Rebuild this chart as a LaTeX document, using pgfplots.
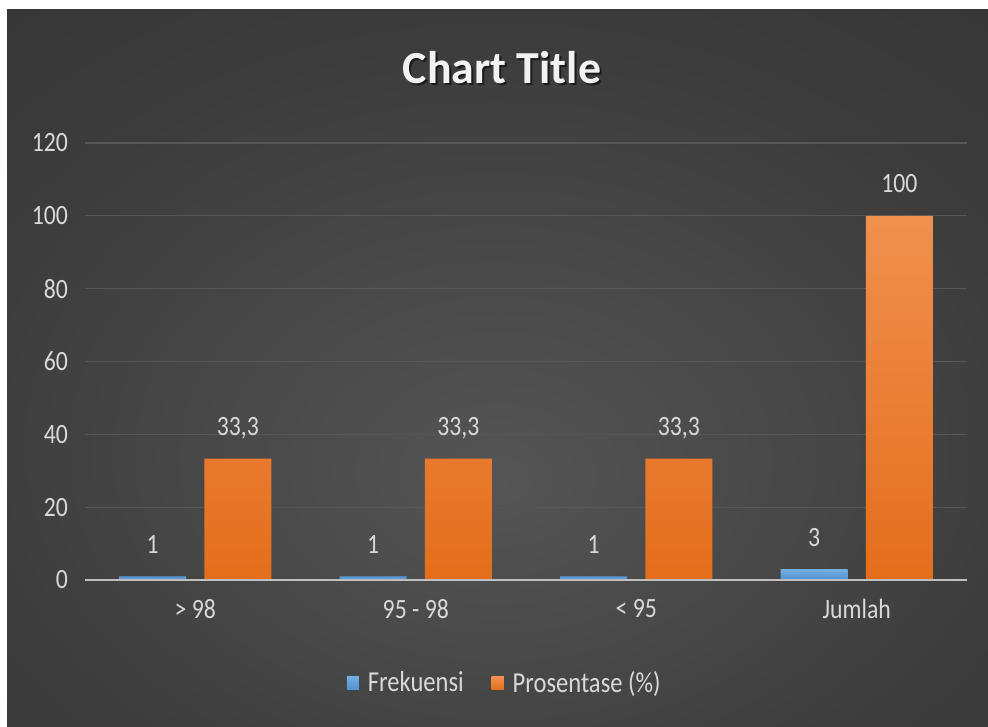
\documentclass[border=0pt]{standalone}
\usepackage{fontspec}
\setmainfont{Carlito}
\newfontfamily\bodyfont{Carlito}[FakeStretch=0.85]
\usepackage{pgfplots}
\pgfplotsset{compat=1.18}
\definecolor{bgin}{HTML}{555555}
\definecolor{bgmid}{HTML}{3C3C3C}
\definecolor{bgout}{HTML}{252525}
\definecolor{gridcol}{HTML}{575757}
\definecolor{labcol}{HTML}{D9D9D9}
\definecolor{titlecol}{HTML}{F2F2F2}
\definecolor{axcol}{HTML}{BFBFBF}
\definecolor{bltop}{HTML}{74ADE0}
\definecolor{blbot}{HTML}{4F93D2}
\definecolor{ortop}{HTML}{F0904F}
\definecolor{orbot}{HTML}{E46E1C}
\pgfdeclareradialshading{bgshade}{\pgfpoint{0bp}{-8bp}}{color(0bp)=(bgin); color(28bp)=(bgmid); color(75bp)=(bgout)}
\begin{document}
\begin{tikzpicture}[x=1bp,y=1bp]
\fill[white] (0,0) rectangle (494,363);
\shade[shading=bgshade] (3.5,0) rectangle (494,358);
\node[font=\fontsize{23}{27}\selectfont\bfseries, text=black, opacity=0.55] at (252,328.3) {Chart Title};
\node[font=\fontsize{23}{27}\selectfont\bfseries, text=titlecol] at (251,329.3) {Chart Title};
\begin{axis}[
  scale only axis, width=441bp, height=218.5bp,
  at={(42.5bp,73bp)}, anchor=south west,
  xmin=-0.5, xmax=3.5, ymin=0, ymax=120,
  ytick={0,20,...,120},
  xtick={0,1,2,3},
  xticklabels={{> 98},{95 - 98},{< 95},{Jumlah}},
  axis x line*=bottom, axis y line*=left,
  axis line style={draw=none},
  major tick length=0pt,
  tick style={draw=none},
  ymajorgrids,
  grid style={gridcol, line width=0.6bp},
  tick label style={font=\bodyfont\fontsize{14}{16}\selectfont, text=labcol},
  yticklabel style={xshift=-5bp},
  xticklabel style={yshift=-6bp},
  ybar, bar width=0.304,
  nodes near coords,
  every node near coord/.append style={font=\bodyfont\fontsize{14}{16}\selectfont, text=labcol, anchor=base, yshift=11.5bp},
  /pgf/number format/.cd, use comma, 1000 sep={}, assume math mode=true,
  /pgfplots/.cd,
  legend style={at={(0.477,-0.236)}, anchor=center, draw=none, fill=none,
    font=\bodyfont\fontsize{14.5}{16}\selectfont, text=labcol,
    /tikz/every even column/.append style={column sep=12bp}},
  legend columns=2,
  legend image code/.code={\fill[#1] (0bp,-3.2bp) rectangle (6bp,3.2bp); \path (8.5bp,0bp);},
]
\addplot[bar shift=-0.193, draw=none, top color=bltop, bottom color=blbot] coordinates {(0,1) (1,1) (2,1) (3,3)};
\addplot[bar shift=0.193, draw=none, top color=ortop, bottom color=orbot] coordinates {(0,33.3) (1,33.3) (2,33.3) (3,100)};
\legend{Frekuensi, Prosentase (\%)}
\draw[axcol, line width=1bp] (axis cs:-0.5,0) -- (axis cs:3.5,0);
\end{axis}
\end{tikzpicture}
\end{document}
